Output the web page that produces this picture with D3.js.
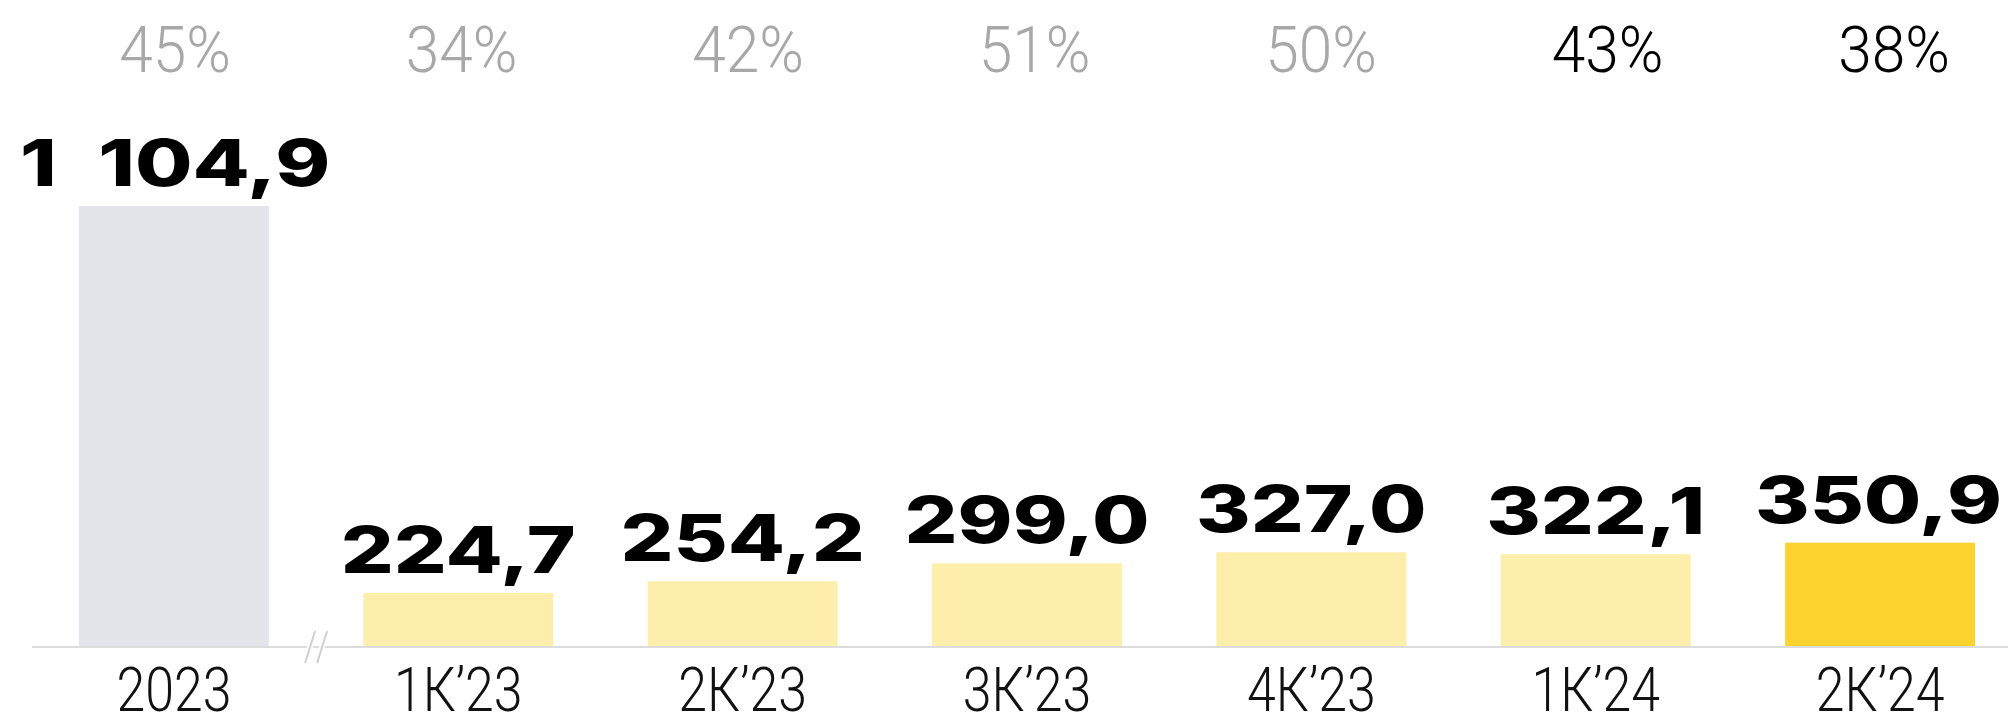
<!DOCTYPE html>
<html lang="ru">
<head>
    <meta charset="utf-8" />
    <style>
        body { margin: 0; background: #fff; }
        .share { font-family: Roboto, sans-serif; font-weight: 300; font-size: 65px; }
        .cat { font-family: Roboto, sans-serif; font-weight: 300; font-size: 61px; fill: #111; }
        .val { font-family: Inter, "DejaVu Sans", sans-serif; font-weight: 800; font-size: 64px; fill: #000; }
        .base { stroke: #dcdcdc; stroke-width: 2px; }
        .brk { stroke: #cfcfcf; stroke-width: 2px; }
    </style>
</head>
<body>
<svg width="2008" height="721"></svg>
<script src="https://cdn.jsdelivr.net/npm/d3@7"></script>
<script>

    var categories = ["2023", "1К’23", "2К’23", "3К’23", "4К’23", "1К’24", "2К’24"],
        values = [1104.9, 224.7, 254.2, 299.0, 327.0, 322.1, 350.9],
        shares = [45, 34, 42, 51, 50, 43, 38];

    var width = 2008,
        baseY = 647,
        topY = 206,
        cutAt = 89.5,          // quarterly bars start above this value (axis break)
        valStretch = 1.3,
        shareStretch = 0.93,
        catStretch = 0.85;

    var svg = d3.select("svg");

    var x = d3.scaleBand()
        .domain(categories)
        .range([32, 2022])
        .paddingInner(0.332)
        .paddingOuter(0.165);

    // the share row sits on a slightly wider grid than the bars
    var xShare = d3.scalePoint()
        .domain(categories)
        .range([175, 1894]);

    var yYear = d3.scaleLinear().domain([0, values[0]]).range([baseY, topY]);
    var yQuarter = d3.scaleLinear().domain([cutAt, cutAt + values[0]]).range([baseY, topY]);

    function yOf(v, i) { return i === 0 ? yYear(v) : yQuarter(v); }

    function fmt(v) {
        var parts = v.toFixed(1).split(".");
        parts[0] = parts[0].replace(/\B(?=(\d{3})+(?!\d))/g, "\u2002");
        return parts.join(",");
    }

    var data = categories.map(function(c, i) {
        return { cat: c, value: values[i], share: shares[i], i: i };
    });

    // bars
    svg.selectAll(".bar")
        .data(data)
        .enter()
        .append("rect")
        .attr("class", "bar")
        .attr("x", function(d) { return x(d.cat); })
        .attr("width", x.bandwidth())
        .attr("y", function(d) { return yOf(d.value, d.i); })
        .attr("height", function(d) { return baseY - yOf(d.value, d.i); })
        .attr("fill", function(d) {
            if (d.i === 0) return "#e4e5ea";
            if (d.i === data.length - 1) return "#fdd32f";
            return "#feeeab";
        });

    // baseline
    svg.append("line")
        .attr("class", "base")
        .attr("x1", 32).attr("x2", width)
        .attr("y1", baseY).attr("y2", baseY);

    // axis break marks
    var bx = (x(categories[0]) + x.bandwidth() + x(categories[1])) / 2;
    [-6, 6].forEach(function(dx) {
        svg.append("line")
            .attr("x1", bx + dx - 5).attr("y1", baseY + 16)
            .attr("x2", bx + dx + 5).attr("y2", baseY - 16)
            .attr("stroke", "#fff").attr("stroke-width", 6);
        svg.append("line")
            .attr("class", "brk")
            .attr("x1", bx + dx - 5).attr("y1", baseY + 16)
            .attr("x2", bx + dx + 5).attr("y2", baseY - 16);
    });

    function cx(d) { return x(d.cat) + x.bandwidth() / 2; }

    // value labels
    svg.selectAll(".val")
        .data(data)
        .enter()
        .append("text")
        .attr("class", "val")
        .attr("text-anchor", "middle")
        .text(function(d) { return fmt(d.value); })
        .attr("transform", function(d) {
            var w = this.getComputedTextLength() * valStretch,
                px = Math.min(cx(d), width - 6 - w / 2);
            px = Math.max(px, 20 + w / 2);
            return "translate(" + px + "," + (yOf(d.value, d.i) - 20) + ") scale(" + valStretch + ",1)";
        });

    // shares on top
    svg.selectAll(".share")
        .data(data)
        .enter()
        .append("text")
        .attr("class", "share")
        .attr("text-anchor", "middle")
        .attr("fill", function(d) { return /’24/.test(d.cat) ? "#000" : "#a8a8a8"; })
        .attr("transform", function(d) { return "translate(" + xShare(d.cat) + ",72) scale(" + shareStretch + ",1)"; })
        .text(function(d) { return d.share + "%"; });

    // category labels
    svg.selectAll(".cat")
        .data(data)
        .enter()
        .append("text")
        .attr("class", "cat")
        .attr("text-anchor", "middle")
        .attr("transform", function(d) { return "translate(" + cx(d) + ",711) scale(" + catStretch + ",1)"; })
        .text(function(d) { return d.cat; });

</script>
</body>
</html>
